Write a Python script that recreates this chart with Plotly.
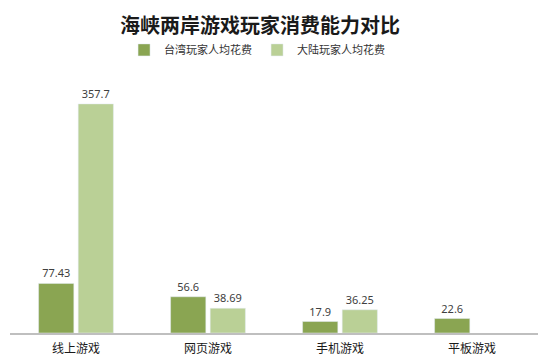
import plotly.graph_objects as go

categories = ["线上游戏", "网页游戏", "手机游戏", "平板游戏"]
taiwan = [77.43, 56.6, 17.9, 22.6]
mainland = [357.7, 38.69, 36.25, None]
series_names = ["台湾玩家人均花费", "大陆玩家人均花费"]
title_text = "海峡两岸游戏玩家消费能力对比"

dark = "#8aa552"
light = "#bad096"

def labels(vals):
    return [("" if v is None else f"{v:g}") for v in vals]

fig = go.Figure()
fig.add_trace(go.Bar(x=categories, y=taiwan, name=series_names[0], marker_color=dark,
                     text=labels(taiwan), textposition="outside", cliponaxis=False,
                     textfont=dict(size=11, color="#404040", family="Noto Sans")))
fig.add_trace(go.Bar(x=categories, y=mainland, name=series_names[1], marker_color=light,
                     text=labels(mainland), textposition="outside", cliponaxis=False,
                     textfont=dict(size=11, color="#404040", family="Noto Sans")))

fig.update_layout(
    width=542, height=353,
    margin=dict(l=2, r=12, t=72, b=28, autoexpand=False),
    paper_bgcolor="white", plot_bgcolor="white",
    barmode="group", bargap=0.40, bargroupgap=0.11,
    title=dict(text=title_text, x=0.4735, xref="paper", xanchor="center", y=0.95, yref="container",
               yanchor="middle",
               font=dict(size=20, color="#1a1a1a", family="Noto Sans CJK SC", weight="bold")),
    legend=dict(orientation="h", x=0.216, xanchor="left", y=1.119, yanchor="middle",
                font=dict(size=11, color="#333333", family="Noto Sans CJK SC"),
                itemwidth=30, bgcolor="rgba(0,0,0,0)"),
    showlegend=True,
    xaxis=dict(showline=True, linecolor="#bfbfbf", linewidth=1.5, ticks="", automargin=False,
               ticklabelstandoff=4,
               tickfont=dict(size=12, color="#1a1a1a", family="Noto Sans CJK SC")),
    yaxis=dict(range=[0, 395], visible=False, showgrid=False, zeroline=False, automargin=False),
    font=dict(family="Noto Sans CJK SC"),
)

fig.write_html("out.html")
